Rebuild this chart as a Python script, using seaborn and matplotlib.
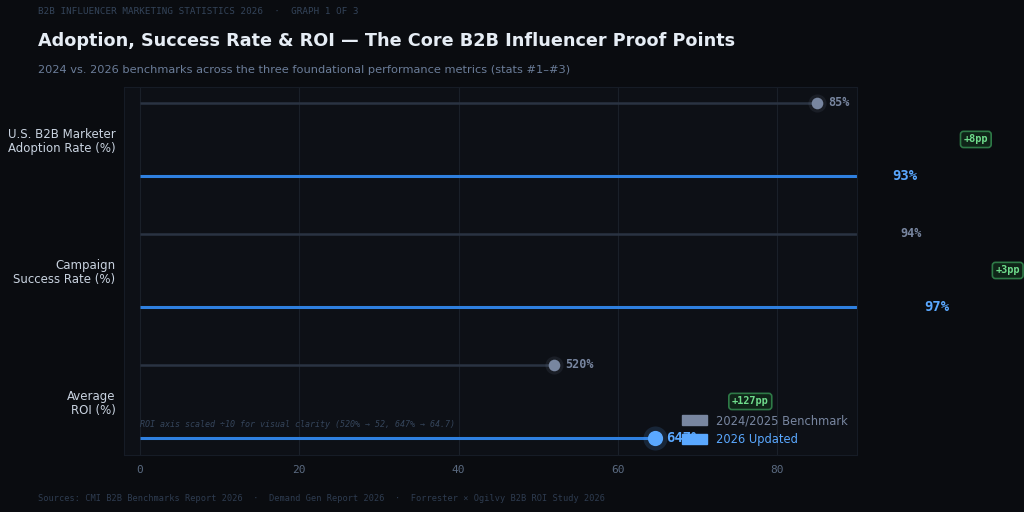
import numpy as np
import pandas as pd
import seaborn as sns
import matplotlib.pyplot as plt
from matplotlib.patches import Patch

# 数据
metrics = ["U.S. B2B Marketer\nAdoption Rate (%)", "Campaign\nSuccess Rate (%)", "Average\nROI (%)"]
bench_vals = [85, 94, 52]        # ROI 520% / 10
updated_vals = [93, 97, 64.7]    # ROI 647% / 10
bench_labels = ["85%", "94%", "520%"]
updated_labels = ["93%", "97%", "647%"]
delta_labels = ["+8pp", "+3pp", "+127pp"]
x_ticks = [0, 20, 40, 60, 80]

BG = "#0a0c10"
AX_BG = "#0d1016"
C_BENCH = "#7886a0"
C_BENCH_LINE = "#2a3342"
C_UPD = "#5aa8ff"
C_UPD_LINE = "#2f80e0"
MONO = "DejaVu Sans Mono"

sns.set_theme(style="dark")
plt.rcParams["font.family"] = ["DejaVu Sans"]

fig = plt.figure(figsize=(10.24, 5.12), dpi=100, facecolor=BG)
ax = fig.add_axes([0.121, 0.111, 0.716, 0.719])
ax.set_facecolor(AX_BG)

off = 0.28
df = pd.DataFrame({
    "y": list(np.arange(3) - off) + list(np.arange(3) + off),
    "x": bench_vals + updated_vals,
    "series": ["bench"] * 3 + ["upd"] * 3,
})
bench_df = df[df.series == "bench"]
upd_df = df[df.series == "upd"]

# 棒
ax.hlines(bench_df.y, 0, bench_df.x, color=C_BENCH_LINE, lw=1.8, zorder=2)
ax.hlines(upd_df.y, 0, upd_df.x, color=C_UPD_LINE, lw=2.2, zorder=2)

# 点（带光晕）
sns.scatterplot(data=bench_df, x="x", y="y", color=C_BENCH, s=170, alpha=0.12,
                legend=False, ax=ax, linewidth=0, zorder=3)
sns.scatterplot(data=upd_df, x="x", y="y", color=C_UPD, s=300, alpha=0.15,
                legend=False, ax=ax, linewidth=0, zorder=3)
sns.scatterplot(data=bench_df, x="x", y="y", color=C_BENCH, s=70,
                legend=False, ax=ax, linewidth=0, zorder=4)
sns.scatterplot(data=upd_df, x="x", y="y", color=C_UPD, s=120,
                legend=False, ax=ax, linewidth=0, zorder=4)

# 数值标签
for i in range(3):
    ax.text(bench_vals[i] + 1.4, i - off, bench_labels[i], color=C_BENCH, fontsize=8.5,
            fontweight="bold", family=MONO, va="center", ha="left")
    ax.text(updated_vals[i] + 1.4, i + off, updated_labels[i], color=C_UPD, fontsize=10,
            fontweight="bold", family=MONO, va="center", ha="left")
    ax.text(max(updated_vals[i], bench_vals[i]) + 11.9, i, delta_labels[i], color="#6fdc8c",
            fontsize=7.4, fontweight="bold", family=MONO, va="center", ha="center",
            bbox=dict(boxstyle="round,pad=0.3", fc="#0f2418", ec="#2e7a47", lw=1.2))

ax.text(0, 2 + off - 0.07, "ROI axis scaled \u00f710 for visual clarity (520% \u2192 52, 647% \u2192 64.7)",
        color="#34445a", fontsize=6.0, style="italic", family=MONO, va="bottom", ha="left")

ax.set_xlim(-2, 90)
ax.set_ylim(2.41, -0.4)
ax.set_yticks(range(3))
ax.set_yticklabels(metrics, color="#c9d3e0", fontsize=8.5, linespacing=1.1)
ax.set_xticks(x_ticks)
ax.set_xticklabels([str(t) for t in x_ticks], color="#5a6a80", fontsize=8, family=MONO)
ax.set_xlabel("")
ax.set_ylabel("")
ax.tick_params(axis="y", length=0, pad=6)
ax.tick_params(axis="x", length=0, pad=7)
ax.grid(axis="x", color="#1a2029", lw=0.8)
ax.grid(axis="y", visible=False)
for s in ax.spines.values():
    s.set_color("#161c26")
    s.set_linewidth(0.8)

handles = [Patch(color=C_BENCH, label="2024/2025 Benchmark"), Patch(color=C_UPD, label="2026 Updated")]
leg = ax.legend(handles=handles, loc="lower right", frameon=False, fontsize=8.3,
                bbox_to_anchor=(1.002, -0.003), handlelength=2.2, handleheight=0.9,
                handletextpad=0.8, labelspacing=0.5)
leg.get_texts()[0].set_color(C_BENCH)
leg.get_texts()[1].set_color(C_UPD)

fig.text(0.037, 0.977, "B2B INFLUENCER MARKETING STATISTICS 2026  \u00b7  GRAPH 1 OF 3", color="#34445a",
         fontsize=6.7, family=MONO, va="center")
fig.text(0.037, 0.919, "Adoption, Success Rate & ROI \u2014 The Core B2B Influencer Proof Points",
         color="#e6edf5", fontsize=12.7, fontweight="bold", va="center")
fig.text(0.037, 0.863, "2024 vs. 2026 benchmarks across the three foundational performance metrics (stats #1\u2013#3)",
         color="#6b7d99", fontsize=8.2, va="center")
fig.text(0.037, 0.027, "Sources: CMI B2B Benchmarks Report 2026  \u00b7  Demand Gen Report 2026  \u00b7  Forrester \u00d7 Ogilvy B2B ROI Study 2026",
         color="#2e3c50", fontsize=6.25, family=MONO, va="center")

fig.savefig("out.png", dpi=100, facecolor=BG)
